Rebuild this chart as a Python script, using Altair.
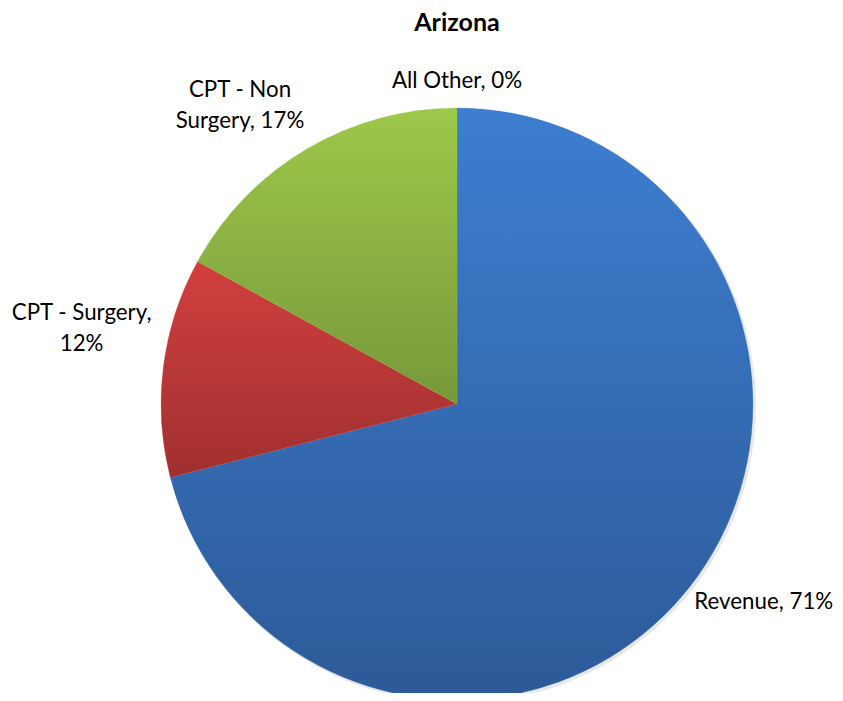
import altair as alt
import pandas as pd

title_text = "Arizona"
categories = ["Revenue", "CPT - Surgery", "CPT - Non Surgery", "All Other"]
values = [71, 12, 17, 0]
labels = [["Revenue, 71%"], ["CPT - Surgery,", "12%"], ["CPT - Non", "Surgery, 17%"], ["All Other, 0%"]]

df = pd.DataFrame({
    "category": categories,
    "value": values,
    "idx": list(range(len(categories))),
    "label": labels,
})

top_colors = ["#3D7ED1", "#D1403F", "#9DC84A", "#9DC84A"]
bottom_colors = ["#2D5A98", "#A02F2F", "#76993A", "#76993A"]

FONT = "Lato"
CX, CY, R = 449, 396, 296

base = alt.Chart(df).transform_window(
    cum="sum(value)", sort=[alt.SortField("idx")], frame=[None, 0]
).transform_calculate(
    start="datum.cum - datum.value",
    mid="datum.cum - datum.value / 2",
)

theta_scale = alt.Scale(domain=[0, 100], range=[0, 6.283185307179586])

layers = []
# soft shadow under the pie
layers.append(
    base.mark_arc(fill="#000000", opacity=0.09)
    .encode(
        theta=alt.Theta("start:Q", scale=theta_scale),
        theta2="cum:Q",
        x=alt.value(CX + 2), y=alt.value(CY + 2),
        radius=alt.value(R + 1),
    )
)
for i, cat in enumerate(categories[:3]):
    grad = alt.Gradient(
        gradient="linear",
        x1=0, x2=0, y1=0, y2=1,
        stops=[alt.GradientStop(offset=0, color=top_colors[i]),
               alt.GradientStop(offset=1, color=bottom_colors[i])],
    )
    layers.append(
        base.transform_filter(alt.datum.category == cat)
        .mark_arc(fill=grad, stroke=top_colors[i], strokeWidth=0.3)
        .encode(
            theta=alt.Theta("start:Q", scale=theta_scale),
            theta2="cum:Q",
            x=alt.value(CX), y=alt.value(CY),
            radius=alt.value(R),
        )
    )

offsets = [(46, -4), (-48, -50), (-49, -30), (0, 7)]
for i, cat in enumerate(categories):
    dx, dy = offsets[i]
    layers.append(
        base.transform_filter(alt.datum.category == cat)
        .mark_text(font=FONT, fontSize=22.3, color="black", align="center",
                   baseline="middle", lineHeight=31, dx=dx, dy=dy)
        .encode(
            theta=alt.Theta("mid:Q", scale=theta_scale),
            x=alt.value(CX), y=alt.value(CY),
            radius=alt.value(330),
            text="label",
        )
    )

title_layer = alt.Chart(pd.DataFrame({"t": [title_text]})).mark_text(
    font=FONT, fontSize=25, fontWeight="bold", color="black",
    align="center", baseline="middle"
).encode(x=alt.value(CX), y=alt.value(15), text="t:N")
layers.append(title_layer)

chart = alt.layer(*layers).properties(
    width=827, height=685,
    autosize=alt.AutoSizeParams(type="none"),
    padding=0,
).configure_view(stroke=None)

chart.save("out.html", embed_options={"renderer": "svg", "actions": False})
